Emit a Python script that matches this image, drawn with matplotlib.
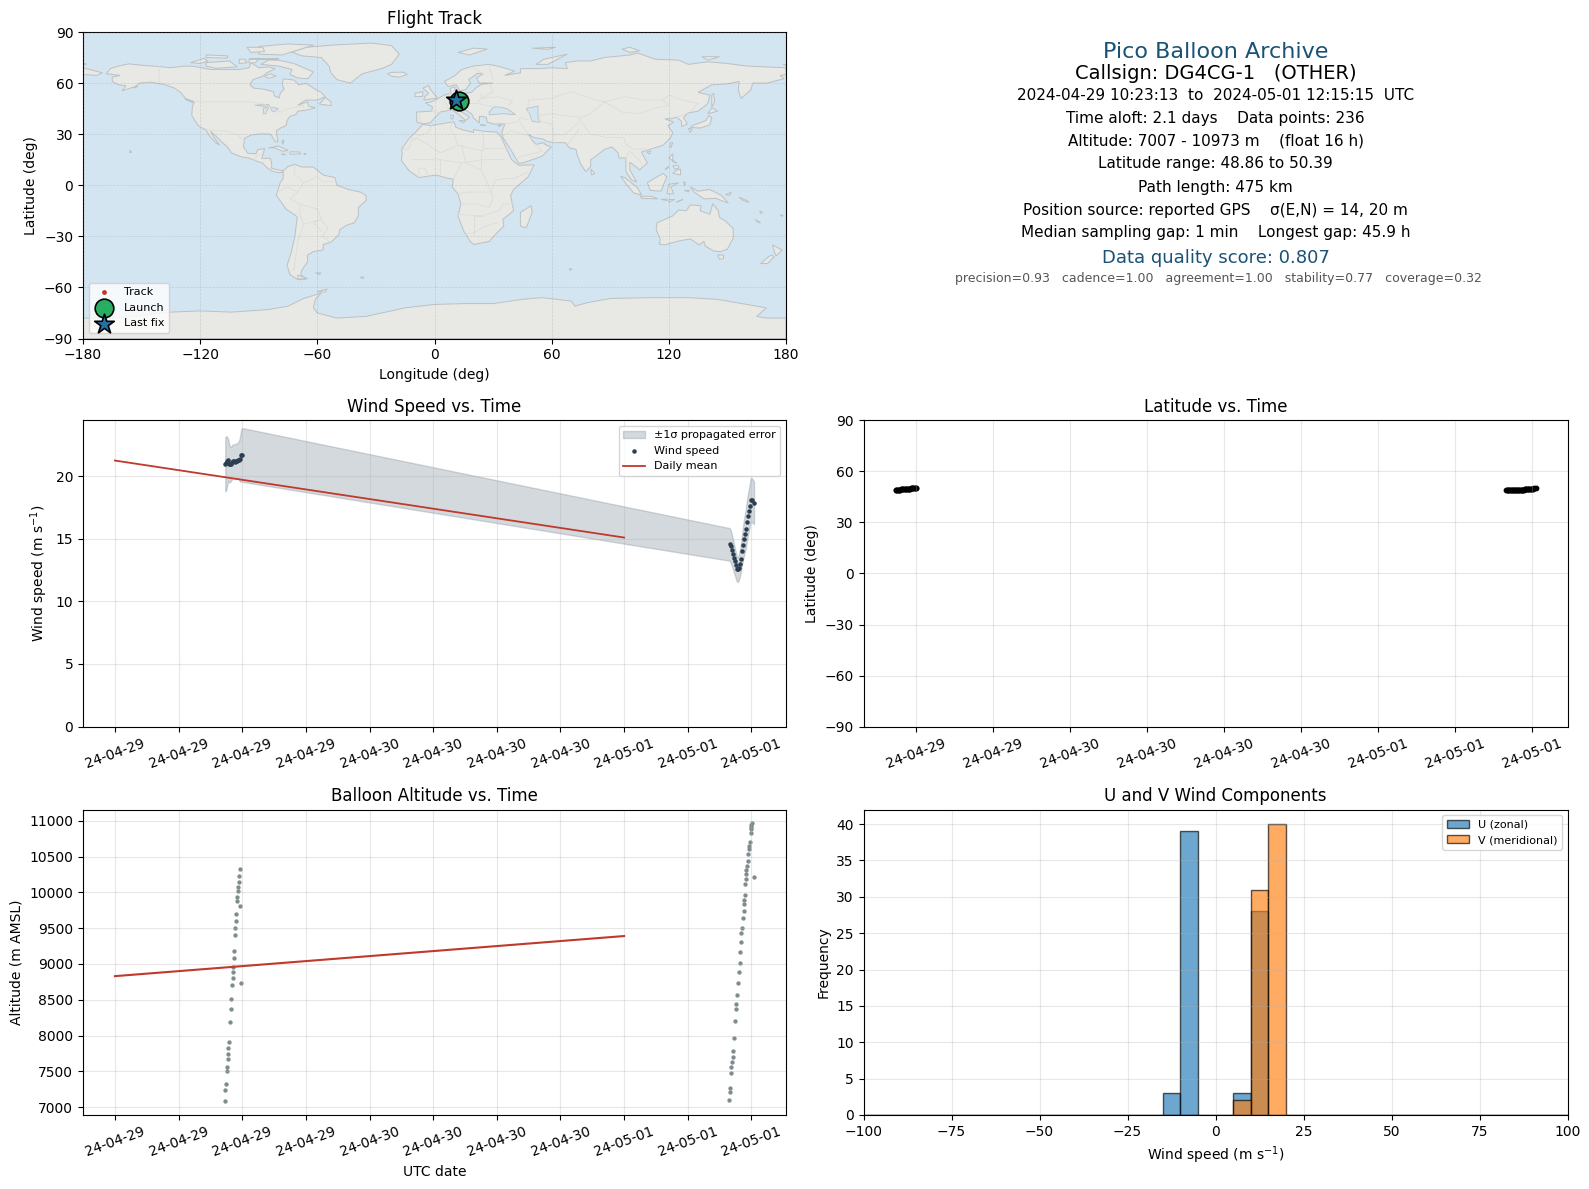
from datetime import datetime, timedelta

import matplotlib
matplotlib.use('Agg')
import matplotlib.dates as mdates
import matplotlib.pyplot as plt
import numpy as np

DAY1 = datetime(2024, 4, 29)
DAY3 = datetime(2024, 5, 1)

# wind speed samples, two stretches either side of the gap (hours of day)
hours_a = [10.40, 10.49, 10.59, 10.68, 10.78, 10.87, 10.97, 11.06, 11.15, 11.25, 11.34, 11.44,
           11.53, 11.62, 11.72, 11.81, 11.91, 12.00]
hours_b = [9.96, 10.05, 10.15, 10.24, 10.34, 10.43, 10.53, 10.62, 10.71, 10.81, 10.90, 11.00,
           11.09, 11.18, 11.28, 11.37, 11.47, 11.56, 11.66, 11.75, 11.84, 11.94, 12.03, 12.25]
wind_a = [20.95, 21.03, 21.22, 21.30, 21.00, 20.95, 21.00, 21.17, 21.19, 21.19, 21.17, 21.22,
          21.22, 21.30, 21.27, 21.40, 21.70, 21.70]
wind_b = [14.55, 14.39, 14.12, 13.81, 13.49, 13.20, 12.88, 12.61, 12.56, 12.69, 13.01, 13.41,
          14.02, 14.47, 15.00, 15.40, 15.80, 16.33, 16.86, 17.25, 17.65, 18.10, 18.10, 17.86]
sigma_a = [2.17, 2.17, 1.90, 1.65, 1.50, 1.40, 1.35, 1.35, 1.35, 1.35, 1.40, 1.40,
           1.40, 1.45, 1.60, 1.85, 2.05, 2.15]
sigma_b = [1.30, 1.30, 1.25, 1.20, 1.15, 1.10, 1.05, 1.00, 1.00, 1.00, 1.05, 1.10,
           1.20, 1.30, 1.40, 1.50, 1.55, 1.60, 1.65, 1.70, 1.70, 1.75, 1.75, 1.70]

# latitude samples, denser than the wind ones
lat_hours_a = [10.38, 10.44, 10.50, 10.56, 10.62, 10.68, 10.74, 10.80, 10.86, 10.92, 10.98, 11.04,
               11.10, 11.16, 11.22, 11.28, 11.34, 11.40, 11.46, 11.52, 11.58, 11.64, 11.70, 11.76,
               11.82, 11.88, 11.94, 12.00]
lat_a = [49.05, 49.1, 49.15, 49.2, 49.25, 49.3, 49.3, 49.35, 49.4, 49.45, 49.5, 49.55,
         49.6, 49.65, 49.7, 49.75, 49.75, 49.8, 49.85, 49.9, 49.95, 49.95, 50.0, 50.05,
         50.1, 50.2, 50.3, 50.39]
lat_hours_b = [9.96, 10.02, 10.08, 10.14, 10.20, 10.26, 10.32, 10.38, 10.44, 10.50, 10.56, 10.62,
               10.68, 10.74, 10.80, 10.86, 10.92, 10.98, 11.04, 11.10, 11.16, 11.22, 11.28, 11.34,
               11.40, 11.46, 11.52, 11.58, 11.64, 11.70, 11.76, 11.82, 11.88, 11.94, 12.00, 12.06,
               12.12, 12.25]
lat_b = [48.86, 48.86, 48.87, 48.88, 48.9, 48.9, 48.92, 48.95, 48.97, 49.0, 49.02, 49.05,
         49.08, 49.1, 49.12, 49.15, 49.18, 49.2, 49.22, 49.25, 49.28, 49.3, 49.3, 49.32,
         49.35, 49.35, 49.38, 49.4, 49.4, 49.45, 49.48, 49.5, 49.55, 49.6, 49.7, 49.8,
         49.95, 50.2]

# altitude samples
alt_hours_a = [10.40, 10.40, 10.50, 10.59, 10.59, 10.68, 10.68, 10.68, 10.78, 10.87, 10.97, 10.97,
               11.06, 11.15, 11.15, 11.15, 11.25, 11.25, 11.34, 11.34, 11.44, 11.44, 11.53, 11.53,
               11.62, 11.62, 11.72, 11.72, 11.81, 11.81, 11.91]
alt_a = [7085, 7236, 7319, 7500, 7555, 7667, 7736, 7833, 7917, 8194, 8375, 8514,
         8708, 8805, 8889, 8958, 9083, 9180, 9403, 9500, 9597, 9694, 9875, 9931,
         10014, 10069, 10139, 10222, 9806, 10333, 8736]
alt_hours_b = [9.93, 10.02, 10.02, 10.12, 10.12, 10.21, 10.31, 10.31, 10.40, 10.50, 10.59, 10.59,
               10.68, 10.78, 10.87, 10.97, 10.97, 11.06, 11.06, 11.15, 11.25, 11.34, 11.34, 11.34,
               11.44, 11.44, 11.53, 11.53, 11.53, 11.62, 11.72, 11.72, 11.81, 11.81, 11.91, 12.0,
               12.0, 12.0, 12.0, 12.09, 12.25]
alt_b = [7100, 7208, 7264, 7472, 7555, 7625, 7694, 7778, 7972, 8208, 8375, 8444,
         8569, 8736, 8889, 9014, 9167, 9305, 9430, 9500, 9639, 9736, 9833, 9889,
         9958, 10111, 10180, 10250, 10306, 10361, 10444, 10542, 10611, 10653, 10708, 10833,
         10880, 10907, 10935, 10963, 10208]

mean_days = [DAY1, DAY3]
mean_wind = [21.25, 15.1]
mean_alt = [8830, 9390]

# histogram, counts per 5 m/s bin
hist_edges = list(range(-100, 105, 5))
u_bins = [-15, -10, 5, 10]
u_counts = [3, 39, 3, 28]
v_bins = [5, 10, 15]
v_counts = [2, 31, 40]

track_lon = [12.8, 12.4, 11.9, 11.3, 10.9]
track_lat = [49.4, 49.5, 49.6, 49.7, 49.8]
launch = (12.8, 49.4)
last_fix = (11.0, 49.8)

north_america = [(-168, 65.5), (-166, 68.5), (-162, 70), (-156.5, 71.3), (-150, 70.5), (-141, 69.7), (-135, 69),
                 (-128, 70), (-123, 69.8), (-115, 68), (-108, 68), (-100, 68), (-95, 69), (-94, 72), (-90, 69),
                 (-85, 69.5), (-81.5, 68.5), (-86, 66), (-88, 64), (-93, 62), (-94.5, 59), (-92.5, 57), (-88, 56.5),
                 (-82.5, 55), (-82, 52.5), (-79.5, 51.3), (-79, 54), (-77, 56.5), (-78, 59), (-77.5, 62.5), (-72, 61.8),
                 (-69.5, 59), (-65.5, 59.8), (-62, 57), (-58, 54.5), (-56, 52), (-60, 50), (-66, 50), (-70, 47),
                 (-65, 49), (-64.5, 46.5), (-61, 45.5), (-66, 44), (-70, 43.5), (-71, 41.5), (-74, 40.5), (-75.5, 38),
                 (-76, 35), (-78.5, 33.8), (-81, 32), (-80.5, 28), (-80.2, 25.5), (-81.5, 25.5), (-82.8, 28), (-84, 30),
                 (-89, 30.2), (-94, 29.5), (-97.3, 27.5), (-97.8, 22.5), (-95.5, 18.7), (-91.5, 18.5), (-90.5, 21),
                 (-87, 21.5), (-88, 17.5), (-88.5, 15.8), (-84, 15.8), (-83.3, 12), (-83.5, 10), (-80, 9), (-77.5, 8.5),
                 (-78, 7.5), (-80.5, 7.5), (-83, 8.2), (-86, 10.5), (-88, 13), (-92, 14.5), (-95, 16), (-99, 16.7),
                 (-104, 19), (-106, 22.5), (-109, 25.5), (-112.5, 29.5), (-114.7, 31.7), (-113, 28), (-110, 23.5),
                 (-112, 25), (-115, 28.5), (-117, 32.5), (-120.5, 34.5), (-122.5, 37.5), (-124.3, 41), (-124, 46),
                 (-123, 49), (-127.5, 51), (-130, 54.5), (-133, 57), (-138, 59), (-145, 60.5), (-151, 60), (-153, 58),
                 (-160, 55.5), (-158, 58.5), (-162, 59), (-165, 61), (-165, 63.5), (-161, 64.5)]
south_america = [(-77.5, 8.5), (-75, 11), (-71.5, 12.3), (-68, 10.7), (-62, 10.7), (-57, 6), (-51, 4.5), (-50, 0),
                 (-44, -2.5), (-38, -4), (-35, -6), (-35, -9), (-39, -13), (-39, -18), (-41, -22), (-45, -23.5),
                 (-48.5, -26), (-49, -29), (-53, -33.5), (-57, -34.8), (-57, -38), (-62, -39), (-65, -41), (-65, -45),
                 (-68, -50), (-68.5, -52.5), (-65.5, -55), (-70, -55.5), (-74, -52.5), (-75.5, -47), (-73.5, -40),
                 (-71.5, -30), (-70.3, -18.5), (-76, -14), (-81, -6), (-80, -2), (-79, 1.5), (-77.5, 4)]
africa = [(-6, 35.8), (-2, 35), (10, 37.3), (11, 34), (15, 32.4), (20, 31), (20, 32.8), (25, 31.7), (32, 31.2),
          (34.3, 28), (37, 21), (39.5, 15), (43.2, 11.7), (51, 12), (48, 5), (40.5, -2.5), (39, -6), (40.5, -15),
          (35, -20), (35.5, -24), (32.8, -27), (28, -33), (20, -34.8), (18.3, -33), (15, -27), (12, -18), (13.5, -11),
          (12, -5), (9, -1), (9.7, 3.5), (6, 4.3), (1, 6), (-4, 5.2), (-8, 4.5), (-13, 8.5), (-17, 14.5), (-16.5, 19),
          (-17, 21), (-13, 27.5), (-9.8, 31)]
eurasia = [(-9, 37), (-9.3, 43), (-1.5, 43.5), (-1, 46), (-4.7, 48.4), (-1.5, 49), (2, 51), (5, 53), (8.5, 54), (8, 57),
           (10.5, 57.7), (10.5, 54.5), (14, 54), (19, 54.5), (21, 57), (24, 59.3), (30, 60), (23, 60), (21.5, 63),
           (25, 65.5), (22, 65.7), (17.5, 62), (18.5, 60), (16, 56.2), (13, 55.5), (11, 59), (7, 58), (5, 61), (10, 64),
           (14, 68), (20, 70), (28, 71), (34, 69.5), (41, 67), (36, 64.5), (44, 66), (44, 68.5), (54, 68.5), (60, 69),
           (68, 68.5), (67, 72), (73, 73), (80, 73), (87, 75), (100, 76.5), (104, 77.7), (113, 74), (125, 73.5),
           (130, 71), (140, 72.5), (150, 71.5), (160, 70), (170, 69.5), (180, 69), (180, 65), (177, 64.5), (179, 62.5),
           (170, 60), (163, 60), (162, 56), (157, 51), (155.5, 56), (156, 61), (150, 59.5), (142, 59), (135, 54.5),
           (141, 53), (140, 48), (135, 43.5), (130, 42.5), (127.5, 39.7), (129.5, 36), (126.5, 34.5), (126.5, 37.5),
           (124, 40), (121, 39), (118, 39), (122.5, 37), (119.5, 35), (122, 31), (121, 28), (117, 23.5), (110, 21),
           (106, 19.5), (109, 13), (105, 9), (103, 11), (100, 13.5), (100, 9), (103.5, 2), (101, 3), (98, 8), (98, 16),
           (94.5, 16), (94, 19), (91, 22.5), (87, 21), (82, 16.5), (80, 15), (80, 11), (77.5, 8), (75, 12), (73, 18),
           (72.5, 21), (69, 22), (67, 25), (61, 25), (57, 26), (56, 27), (51, 28), (48, 30), (50, 26.5), (52, 24),
           (56, 25), (56.5, 24), (59.8, 22.5), (55, 17), (45, 13), (43, 13), (39, 21), (35, 28), (34.5, 31), (36, 36),
           (30, 36), (27, 37), (26.5, 40), (23, 40.5), (23, 36.5), (20, 39.5), (19, 42), (14, 45.5), (12.5, 44),
           (16, 41.5), (18, 40), (16, 38), (12.5, 41.5), (9, 44.3), (3, 43), (0, 39.5), (-2, 36.8), (-5.5, 36)]
australia = [(114, -22), (113.5, -26), (115.7, -32), (115, -34.5), (118, -35), (124, -33), (131, -31.5), (135.5, -35),
             (138, -33), (138.5, -35.5), (143, -38.7), (146.5, -39), (150, -37.5), (153, -31), (153, -25.5), (149, -21),
             (146, -19), (145.3, -15), (142.5, -10.8), (141, -17), (136, -15), (136.5, -12), (131, -11.5), (129, -15),
             (125, -14.5), (122, -18)]
antarctica = [(-180, -90), (-180, -78), (-165, -78), (-150, -76.5), (-135, -74.5), (-120, -73.8), (-104, -74.5),
              (-85, -73), (-75, -71), (-67, -66.5), (-58, -63.3), (-61, -67), (-62, -72), (-60, -75), (-50, -78),
              (-35, -77), (-27, -75), (-15, -72), (0, -70), (15, -69.5), (30, -69.5), (45, -67), (55, -66), (70, -68),
              (72, -71), (78, -69), (90, -66.5), (110, -66), (130, -66), (145, -67), (160, -70), (170, -72), (165, -77),
              (170, -78), (180, -78), (180, -90)]
islands = [
    [(-73, 78.2), (-66, 81), (-50, 82.5), (-32, 83.5), (-22, 82), (-18, 77), (-22, 71), (-27, 68.5), (-37, 65.5),
     (-43, 60), (-50, 62), (-53, 66), (-54, 70), (-58, 75), (-68, 76)],
    [(-80, 73.5), (-72, 71.5), (-67, 69), (-62, 66.5), (-65, 62.5), (-70, 63), (-74, 65), (-73, 68), (-80, 70), (-89, 71),
     (-85, 73.5)],
    [(-117, 72), (-105, 73), (-101, 69.5), (-112, 68.7), (-117, 70)],
    [(-90, 77), (-78, 76.5), (-62, 82.3), (-75, 83), (-90, 81.5)],
    [(-125, 72), (-118, 74.5), (-116, 73), (-120, 71.5)],
    [(-95, 75), (-80, 75), (-80, 74), (-95, 74)],
    [(-117, 76.5), (-106, 76), (-106, 74.7), (-117, 75)],
    [(-100, 74), (-97, 74), (-96, 72), (-100, 71.5)],
    [(-95, 74), (-90, 74), (-92, 71.8), (-95, 72)],
    [(-96, 81), (-88, 81), (-87, 78.5), (-94, 78)],
    [(-84, 65.5), (-81, 64), (-85, 62.8), (-87, 64)],
    [(-59, 47.7), (-53, 46.7), (-53, 49), (-56, 51.5)],
    [(-128, 50.7), (-124, 48.5), (-123.5, 49.2)],
    [(-24, 65.5), (-22, 64), (-18, 63.5), (-14, 65), (-16, 66.4), (-22, 66.3)],
    [(-85, 22), (-80, 23), (-75, 20.5), (-77.5, 19.9), (-82, 22)],
    [(-74, 19.7), (-69, 19.5), (-68.5, 18.4), (-74, 18.2)],
    [(-78.3, 18.4), (-76.3, 18.1), (-77.5, 17.8)],
    [(-67, 18.5), (-65.7, 18.4), (-66, 18)],
    [(-78, 26.5), (-77, 26), (-77.8, 24)],
    [(-5.5, 50), (1.5, 51.3), (0, 53.5), (-2, 56), (-3, 58.6), (-6, 57), (-3, 54), (-5, 52)],
    [(-10, 52), (-6, 52.2), (-6, 55), (-10, 54)],
    [(44, -16), (49.5, -12), (50, -16), (47, -25), (44, -24)],
    [(131, 34), (136, 33.6), (141, 35.5), (142, 39.5), (140.5, 41), (139, 38), (133, 35.5)],
    [(130, 33.5), (132, 33), (131, 31)],
    [(140, 42), (145, 43.5), (142, 45.5)],
    [(142, 46), (143.5, 49), (143, 54), (142, 53)],
    [(120.5, 23), (121, 25), (122, 25), (121, 22)],
    [(108.7, 19.5), (110.8, 20), (110, 18.3)],
    [(120, 16), (122, 18.5), (122, 14), (124, 13)],
    [(122, 7), (126, 6), (126, 9.5), (123.5, 8.5)],
    [(118, 9), (119.5, 11), (120, 10.5)],
    [(122, 11.5), (125, 11.5), (125, 10), (123, 9.5)],
    [(109, 1.5), (117, 7), (119, 5), (117.5, 1), (116, -3.5), (110.5, -3)],
    [(95.3, 5.5), (98, 4), (104, -1.5), (106, -5.8), (102, -4.5), (98, 1)],
    [(105.5, -6.5), (111, -6.5), (114.5, -8), (106, -7.7)],
    [(119, -5), (120, 0.5), (125, 1.5), (121, -1), (122.5, -5)],
    [(116, -8.3), (119, -8.2), (119, -9)],
    [(120, -8.5), (123, -8.3), (120, -10)],
    [(124, -10), (127, -8.4), (124, -9.8)],
    [(127.5, 2), (128.5, 1.5), (128, -0.5)],
    [(128, -3), (130.5, -3), (130, -3.8)],
    [(131, -1), (135, -3.5), (141, -2.5), (147, -6), (150.5, -10.5), (144, -7.7), (138, -8), (133, -4)],
    [(149, -5.5), (152, -4.2), (151, -6)],
    [(156, -7), (160, -9), (161, -10), (158, -9)],
    [(166.5, -15), (168, -16), (167, -16.5)],
    [(177, -17.5), (178.5, -17.5), (178, -18.3)],
    [(145, -41), (148, -41), (148, -43), (146, -43.5)],
    [(173, -35), (178, -38), (175, -41.5), (174, -39)],
    [(172.5, -41), (174, -42), (170.5, -46), (167, -46), (171, -42)],
    [(80, 9.5), (82, 7), (80.5, 6)],
    [(12, 78), (20, 80.5), (27, 80), (18, 76.5)],
    [(50, 80.5), (62, 81), (58, 79.8)],
    [(52, 71), (56, 74), (68, 77), (58, 71)],
    [(96, 80), (100, 81), (105, 79), (100, 78)],
    [(137, 75.5), (146, 75.5), (140, 73.5)],
    [(178.5, 71.5), (180, 71.5), (180, 70.8)],
    [(-180, 71.5), (-178, 71.2), (-180, 70.8)],
    [(12.5, 38), (15.5, 38), (15, 36.7)],
    [(8.3, 41), (9.7, 41), (9.5, 39), (8.5, 39)],
    [(23.5, 35.5), (26.2, 35.3), (24.5, 35)],
    [(32.3, 35), (34.5, 35.6), (33.5, 34.6)],
    [(-180, 69), (-170, 66), (-173, 64.5), (-180, 65)],
    [(-153, 58.3), (-152, 58), (-154, 57)],
    [(-61, -51.5), (-58, -51.5), (-59, -52.3)],
    [(-156, 20.5), (-155, 19.5), (-156, 19)],
    [(164, -20), (167, -22), (166, -22)],
    [(69, -49), (70.5, -49.2), (69.5, -50)],
    [(-38, -54), (-36, -54), (-37, -54.8)],
    [(-70, -52.8), (-65, -54.8), (-70, -55)],
    [(-60, -62.5), (-55, -61), (-56, -62.8)],
]
lakes = [
    [(28, 43), (28, 41.3), (35, 42), (41.5, 41.5), (37, 45), (33, 46), (30.5, 46)],
    [(47, 45), (53, 46.5), (53, 40), (54, 37), (50, 37.5), (49, 41)],
    [(-92, 47), (-85, 47.5), (-84.5, 46.5), (-88, 46.5)],
    [(-87.5, 45.5), (-85, 45.5), (-86.5, 42), (-87.8, 42)],
    [(-84, 46), (-80, 45), (-82, 43), (-83.5, 44)],
]
borders = [
    [(-123, 49), (-95, 49), (-88, 48), (-82.5, 45), (-79, 43), (-75, 45), (-70, 46), (-67, 47), (-67, 45)],
    [(-141, 69.7), (-141, 60.3), (-135, 59)],
    [(-117, 32.5), (-106, 31.7), (-101, 29.5), (-97.3, 26)],
    [(-92, 14.5), (-91, 17.5), (-88.5, 18)],
    [(-71.5, 12), (-72, 7), (-67, 1.5), (-70, -4), (-74, -8), (-69, -11), (-69, -17), (-67, -23), (-70, -33), (-72, -50)],
    [(-67, 1.5), (-60, 5), (-57, 2), (-52, 2.5)],
    [(-80, -3.5), (-75, -1), (-70, -4)],
    [(-69, -11), (-60, -14), (-58, -20), (-54.5, -25.5), (-57.5, -30), (-53, -33.5)],
    [(-67, -23), (-58, -20), (-62, -22), (-58, -27)],
    [(-13, 27.5), (-8.7, 27.5), (-5, 25), (3, 19), (12, 23.5), (25, 20), (25, 31.7)],
    [(-17, 21), (-13, 21.5), (-12, 26), (-8.7, 27.5)],
    [(-1.5, 35), (-3, 31), (-8.7, 29)],
    [(9, 37), (8, 33), (10, 30), (12, 23.5)],
    [(25, 22), (37, 22)],
    [(24, 20), (24, 9), (16, 13), (14, 23)],
    [(-12, 15), (3, 15), (14, 13), (24, 15), (36, 15)],
    [(3, 15), (3, 6.5)],
    [(-8, 4.5), (-8, 10), (-5, 10), (-3, 5)],
    [(9.7, 3.5), (14, 13)],
    [(12, -5), (18, -4), (29, -4), (31, 3), (36, 4), (41, 4), (48, 8)],
    [(24, 9), (29, -4), (30, -8), (28, -13), (22, -11), (13.5, -11)],
    [(12, -17), (24, -18), (33, -15), (35, -11), (40.5, -11)],
    [(20, -29), (20, -18), (25, -18)],
    [(16, -28.5), (20, -28), (26, -24), (32, -22)],
    [(5, 51), (6, 47.5), (7.5, 44)],
    [(-1.5, 43.5), (3, 42.5)],
    [(-8, 42), (-7, 37)],
    [(8, 54.5), (7, 50), (8, 47.5), (13, 47.5), (17, 48), (22, 48), (24, 51.5), (23.5, 54)],
    [(14, 54), (15, 51), (13, 48.5)],
    [(28, 60), (30, 55), (24, 51), (32, 52), (40, 49.5), (38, 47)],
    [(22, 48), (30, 46)],
    [(28, 70), (30, 62)],
    [(20, 69), (24, 66), (25, 65.5)],
    [(48, 42), (48, 50), (60, 51), (70, 55), (80, 51), (87, 49)],
    [(87, 49), (98, 52), (107, 50), (117, 50), (120, 53), (127, 50), (135, 48), (131, 43)],
    [(87, 49), (80, 42), (74, 39), (78, 33), (80, 30), (88, 28), (97, 28), (98, 24), (102, 21), (108, 21.5)],
    [(87, 49), (96, 43), (105, 42), (112, 45), (120, 47), (117, 50)],
    [(54, 37.5), (60, 36), (61, 30), (61, 25)],
    [(61, 30), (66, 29.5), (70, 33), (74, 37)],
    [(68, 24), (71, 28), (74, 33)],
    [(53, 41), (60, 42), (66, 41), (74, 40)],
    [(36, 36), (42, 37), (44, 39.5), (48, 38.5)],
    [(35, 29), (39, 32), (47, 29.5), (48, 30)],
    [(44, 37), (46, 33), (48, 30)],
    [(52, 24), (55, 20), (52, 19), (44, 17), (43, 16)],
    [(98, 16), (100, 20), (102, 18), (105, 14.5), (107, 11)],
    [(124, 40), (130, 42.5)],
]

OCEAN = '#d3e5f1'
LAND = '#e8e8e4'
COAST = '#bcc1c3'

fig = plt.figure(figsize=(15.89, 11.89), dpi=100)


def make_axes(left, top, right, bottom):
    return fig.add_axes([left / 1589, 1 - bottom / 1189, (right - left) / 1589, (bottom - top) / 1189])


def to_times(day, hours):
    return [day + timedelta(hours=h) for h in hours]


def style_dates(ax):
    ax.xaxis.set_major_locator(mdates.HourLocator(byhour=[0, 6, 12, 18]))
    ax.xaxis.set_major_formatter(mdates.DateFormatter('%y-%m-%d'))
    ax.tick_params(axis='x', rotation=20)
    ax.grid(True, alpha=0.3)


times_wind = to_times(DAY1, hours_a) + to_times(DAY3, hours_b)
wind = np.array(wind_a + wind_b)
sigma = np.array(sigma_a + sigma_b)
times_lat = to_times(DAY1, lat_hours_a) + to_times(DAY3, lat_hours_b)
lats = lat_a + lat_b
times_alt = to_times(DAY1, alt_hours_a) + to_times(DAY3, alt_hours_b)
alts = alt_a + alt_b

# flight track map
ax = make_axes(83, 32, 786, 338.5)
ax.set_facecolor(OCEAN)
for poly in [north_america, south_america, africa, eurasia, australia, antarctica] + islands:
    xy = np.array(poly)
    ax.fill(xy[:, 0], xy[:, 1], facecolor=LAND, edgecolor=COAST, linewidth=0.7, zorder=1)
for poly in lakes:
    xy = np.array(poly)
    ax.fill(xy[:, 0], xy[:, 1], facecolor=OCEAN, edgecolor=COAST, linewidth=0.6, zorder=1.1)
for line in borders:
    xy = np.array(line)
    ax.plot(xy[:, 0], xy[:, 1], color='#dcddd9', linewidth=0.6, zorder=1.2)
ax.scatter(track_lon, track_lat, s=6, color='#c0392b', label='Track', zorder=3)
ax.scatter(*launch, s=180, color='#27ae60', edgecolor='black', linewidth=1.2, label='Launch', zorder=4)
ax.scatter(*last_fix, s=220, marker='*', color='#2471a3', edgecolor='black', linewidth=1.2, label='Last fix', zorder=5)
ax.set_xlim(-180, 180)
ax.set_ylim(-90, 90)
ax.set_xticks(range(-180, 181, 60))
ax.set_yticks(range(-90, 91, 30))
ax.grid(True, color='gray', linestyle='--', linewidth=0.5, alpha=0.25, zorder=2)
ax.set_axisbelow(False)
ax.set_xlabel('Longitude (deg)')
ax.set_ylabel('Latitude (deg)')
ax.set_title('Flight Track')
ax.legend(loc='lower left', fontsize=8)

# summary text
ax = make_axes(863.5, 31.4, 1567.5, 338.5)
ax.axis('off')
BLUE = '#1a5276'
summary = [
    (0.5, 0.934, 'Pico Balloon Archive', 16, BLUE),
    (0.5, 0.862, 'Callsign: DG4CG-1   (OTHER)', 14, 'black'),
    (0.5, 0.792, '2024-04-29 10:23:13  to  2024-05-01 12:15:15  UTC', 11, 'black'),
    (0.5, 0.716, 'Time aloft: 2.1 days    Data points: 236', 11, 'black'),
    (0.5, 0.644, 'Altitude: 7007 - 10973 m    (float 16 h)', 11, 'black'),
    (0.5, 0.569, 'Latitude range: 48.86 to 50.39', 11, 'black'),
    (0.5, 0.493, 'Path length: 475 km', 11, 'black'),
    (0.5, 0.416, 'Position source: reported GPS    σ(E,N) = 14, 20 m', 11, 'black'),
    (0.5, 0.344, 'Median sampling gap: 1 min    Longest gap: 45.9 h', 11, 'black'),
    (0.5, 0.261, 'Data quality score: 0.807', 13, BLUE),
    (0.504, 0.195, 'precision=0.93   cadence=1.00   agreement=1.00   stability=0.77   coverage=0.32', 9, '#555555'),
]
for x, y, text, size, color in summary:
    ax.text(x, y, text, fontsize=size, color=color, ha='center', va='center', transform=ax.transAxes)

# wind speed
ax = make_axes(83, 420.3, 786, 726.6)
ax.fill_between(times_wind, wind - sigma, wind + sigma, color='#85929e', alpha=0.35, label='±1σ propagated error')
ax.scatter(times_wind, wind, s=5, color='#2c3e50', label='Wind speed', zorder=3)
ax.plot(mean_days, mean_wind, color='#c0392b', linewidth=1.3, label='Daily mean')
ax.set_ylim(bottom=0)
style_dates(ax)
ax.set_ylabel('Wind speed (m s$^{-1}$)')
ax.set_title('Wind Speed vs. Time')
ax.legend(loc='upper right', fontsize=8)

# latitude
ax = make_axes(863.5, 420.3, 1567.5, 726.6)
ax.scatter(times_lat, lats, s=10, color='black')
ax.set_ylim(-90, 90)
ax.set_yticks(range(-90, 91, 30))
style_dates(ax)
ax.set_ylabel('Latitude (deg)')
ax.set_title('Latitude vs. Time')

# altitude
ax = make_axes(83, 809.5, 786, 1115)
ax.scatter(times_alt, alts, s=4.5, color='#7f8c8d')
ax.plot(mean_days, mean_alt, color='#c0392b', linewidth=1.5)
style_dates(ax)
ax.set_xlabel('UTC date')
ax.set_ylabel('Altitude (m AMSL)')
ax.set_title('Balloon Altitude vs. Time')

# wind components
ax = make_axes(863.5, 809.5, 1567.5, 1115)
ax.hist(u_bins, bins=hist_edges, weights=u_counts, alpha=0.65, color='C0', edgecolor='black', label='U (zonal)')
ax.hist(v_bins, bins=hist_edges, weights=v_counts, alpha=0.65, color='C1', edgecolor='black', label='V (meridional)')
ax.set_xlim(-100, 100)
ax.grid(True, alpha=0.3)
ax.set_xlabel('Wind speed (m s$^{-1}$)')
ax.set_ylabel('Frequency')
ax.set_title('U and V Wind Components')
ax.legend(loc='upper right', fontsize=8)

fig.savefig('out.png', dpi=100)
